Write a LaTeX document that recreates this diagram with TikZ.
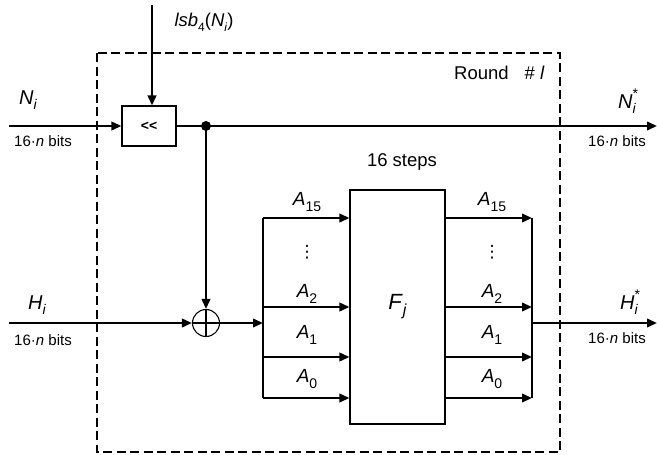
\documentclass[tikz,border=0pt]{standalone}
\usepackage{fontspec}
\setmainfont{Liberation Sans}
\newfontfamily\symfont{DejaVu Sans}
\usetikzlibrary{arrows.meta}
% letter with a lowered index, and with index and star
\newcommand{\vr}[3]{\textit{#1}\raisebox{-0.28em}{\fontsize{#3}{#3}\selectfont #2}}
\newcommand{\vrs}[3]{\textit{#1}\rlap{\raisebox{-0.28em}{\fontsize{#3}{#3}\selectfont #2}}\raisebox{0.5em}{\fontsize{#3}{#3}\selectfont *}}
\begin{document}
\begin{tikzpicture}[x=1pt,y=-1pt,>={Triangle[length=10pt,width=8.5pt]},line width=2.2pt,
	font=\fontsize{19}{21}\selectfont,
	blk/.style={draw,line width=1.1pt,inner sep=0pt},
	bits/.style={font=\fontsize{15}{17}\selectfont},
	big/.style={font=\fontsize{18.5}{20}\selectfont},
	var/.style={font=\fontsize{20}{22}\selectfont}]
	\useasboundingbox (0,0) rectangle (657,455);
	% round frame
	\draw[line width=1.5pt,dash pattern=on 9pt off 4.5pt] (97,53) rectangle (560,452);
	\node[big,anchor=east] (round) at (549,73) {Round\hspace{16pt}\#\hspace{5pt}\textit{l}};
	% rotation of N_i
	\node[blk,minimum width=54pt,minimum height=40pt] (shift) at (149,126) {\fontsize{14}{16}\selectfont\bfseries <{}<};
	\coordinate (lsbin) at (152,5);
	\coordinate (nin) at (9,126);
	\coordinate (split) at (206,126);
	\coordinate (nout) at (657,126);
	\draw[->] (lsbin) -- (lsbin |- shift.north);
	\draw[->] (nin) -- (shift.west);
	\draw[->] (shift.east) -- (nout);
	\fill (split) circle (5pt);
	\node[big] (lsb) at (204,22) {\textit{lsb}\raisebox{-0.28em}{\fontsize{12}{12}\selectfont 4}(\vr{N}{\textit{i}}{12})};
	\node[var] (ni) at (28,100) {\vr{N}{\textit{i}}{14}};
	\node[bits] (nbits) at (43,141) {16·\textit{n} bits};
	\node[var] (nis) at (628,101) {\vrs{N}{\textit{i}}{14}};
	\node[bits] (nobits) at (617,141) {16·\textit{n} bits};
	% xor with H_i
	\node[blk,circle,minimum size=27pt] (xor) at (206,323) {};
	\draw[line width=1.1pt] (xor.north) -- (xor.south) (xor.west) -- (xor.east);
	\coordinate (hin) at (9,323);
	\coordinate (fan) at (263,323);
	\coordinate (hout) at (657,323);
	\draw[->] (split) -- (xor.north);
	\draw[->] (hin) -- (xor.west);
	\draw[->] (xor.east) -- (fan);
	\node[var] (hi) at (37,305) {\vr{H}{\textit{i}}{14}};
	\node[bits] (hbits) at (43,340) {16·\textit{n} bits};
	\node[var] (his) at (630,302) {\vrs{H}{\textit{i}}{14}};
	\node[bits] (hobits) at (617,338) {16·\textit{n} bits};
	% step function
	\node[blk,minimum width=95pt,minimum height=234pt] (F) at (397.5,307) {\fontsize{22}{24}\selectfont\vr{F}{\textit{j}}{16}};
	\node[big] (steps) at (402,162) {16 steps};
	\foreach \y [count=\k] in {218,307,357,398} {
		\coordinate (l\k) at (263,\y);
		\coordinate (r\k) at (532,\y);
		\draw[->] (l\k) -- (l\k -| F.west);
		\draw[->] (l\k -| F.east) -- (r\k);
	}
	\draw (l1) -- (l4);
	\draw (r1) -- (r4);
	\draw[->] (r1 |- hout) -- (hout);
	\foreach \x in {307,492} {
		\node at (\x,202) {\vr{A}{15}{14}};
		\node[inner sep=0pt] at (\x,252) {\symfont\fontsize{17}{17}\selectfont ⋮};
		\node at (\x,294) {\vr{A}{2}{14}};
		\node at (\x,335) {\vr{A}{1}{14}};
		\node at (\x,379) {\vr{A}{0}{14}};
	}
\end{tikzpicture}
\end{document}
